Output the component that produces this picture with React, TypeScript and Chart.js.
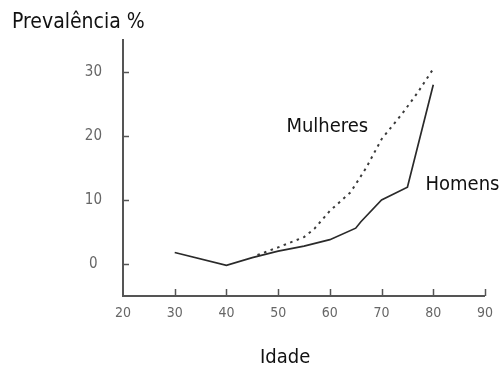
import React, { useEffect, useRef } from "react";
import { Chart, registerables } from "chart.js";

Chart.register(...registerables);

const homensAges = [30, 40, 45, 50, 55, 60, 65, 66, 70, 75, 80];
const homensValues = [1.8, -0.2, 1.0, 2.0, 2.8, 3.8, 5.6, 6.6, 10, 12, 28];
const mulheresAges = [46, 50, 55, 57, 60, 64, 67, 70, 74, 77, 80];
const mulheresValues = [1.4, 2.6, 4.2, 5.5, 8.3, 11.2, 15, 19.5, 23.5, 26.8, 30.5];
const xTicks = [20, 30, 40, 50, 60, 70, 80, 90];
const yTicks = [0, 10, 20, 30];

const yTitle = "Prevalência %";
const xTitle = "Idade";
const labelMulheres = "Mulheres";
const labelHomens = "Homens";

const FONT = '"Liberation Sans Narrow", "DejaVu Sans Condensed", "Liberation Sans", sans-serif';

const decorPlugin = {
  id: "decor",
  afterDraw(chart: any) {
    const ctx = chart.ctx;
    const xs = chart.scales.x;
    const ys = chart.scales.y;
    const area = chart.chartArea;
    ctx.save();
    // inward tick marks
    ctx.strokeStyle = "#555";
    ctx.lineWidth = 1.5;
    xTicks.forEach((v) => {
      if (v === xs.min) return;
      const px = Math.round(xs.getPixelForValue(v)) + 0.5;
      ctx.beginPath();
      ctx.moveTo(px, area.bottom);
      ctx.lineTo(px, area.bottom - 7);
      ctx.stroke();
    });
    yTicks.forEach((v) => {
      const py = Math.round(ys.getPixelForValue(v)) + 0.5;
      ctx.beginPath();
      ctx.moveTo(area.left, py);
      ctx.lineTo(area.left + 6, py);
      ctx.stroke();
    });
    // texts
    ctx.fillStyle = "#111";
    ctx.textBaseline = "alphabetic";
    ctx.textAlign = "left";
    ctx.font = "21px " + FONT;
    ctx.fillText(yTitle, 12, 28);
    ctx.font = "20px " + FONT;
    ctx.fillText(xTitle, 260, 363);
    ctx.fillText(labelMulheres, xs.getPixelForValue(51.6), ys.getPixelForValue(20.6));
    ctx.fillText(labelHomens, xs.getPixelForValue(78.5), ys.getPixelForValue(11.5));
    ctx.restore();
  },
};

export default function App() {
  const ref = useRef<HTMLCanvasElement | null>(null);
  useEffect(() => {
    if (!ref.current) return;
    const chart = new Chart(ref.current, {
      type: "line",
      data: {
        datasets: [
          {
            label: labelHomens,
            data: homensAges.map((a, i) => ({ x: a, y: homensValues[i] })),
            borderColor: "#2a2a2a",
            borderWidth: 1.7,
            pointRadius: 0,
            tension: 0,
          },
          {
            label: labelMulheres,
            data: mulheresAges.map((a, i) => ({ x: a, y: mulheresValues[i] })),
            borderColor: "#3a3a3a",
            borderWidth: 2,
            borderDash: [2.5, 4.5],
            pointRadius: 0,
            tension: 0,
          },
        ],
      },
      options: {
        animation: false,
        responsive: false,
        layout: { padding: { top: 40, right: 14, left: 0, bottom: 0 } },
        plugins: { legend: { display: false }, tooltip: { enabled: false }, title: { display: false } },
        scales: {
          x: {
            type: "linear",
            min: 20,
            max: 90,
            afterBuildTicks: (s: any) => {
              s.ticks = xTicks.map((v) => ({ value: v }));
            },
            afterFit: (s: any) => {
              s.height = 70;
            },
            grid: { drawOnChartArea: false, drawTicks: false },
            border: { display: true, color: "#555", width: 2 },
            ticks: {
              padding: 9,
              color: "#666",
              font: { size: 14, family: FONT },
              maxRotation: 0,
            },
          },
          y: {
            type: "linear",
            min: -5,
            max: 35,
            afterBuildTicks: (s: any) => {
              s.ticks = yTicks.map((v) => ({ value: v }));
            },
            afterFit: (s: any) => {
              s.width = 123;
            },
            grid: { drawOnChartArea: false, drawTicks: false },
            border: { display: true, color: "#555", width: 2 },
            ticks: {
              padding: 21,
              crossAlign: "center",
              color: "#666",
              font: { size: 15, family: FONT },
            },
          },
        },
      },
      plugins: [decorPlugin],
    } as any);
    return () => chart.destroy();
  }, []);
  return (
    <div style={{ position: "fixed", left: 0, top: 0, width: 502, height: 366, background: "#fff" }}>
      <canvas ref={ref} width={502} height={366} style={{ display: "block", width: 502, height: 366 }} />
    </div>
  );
}
